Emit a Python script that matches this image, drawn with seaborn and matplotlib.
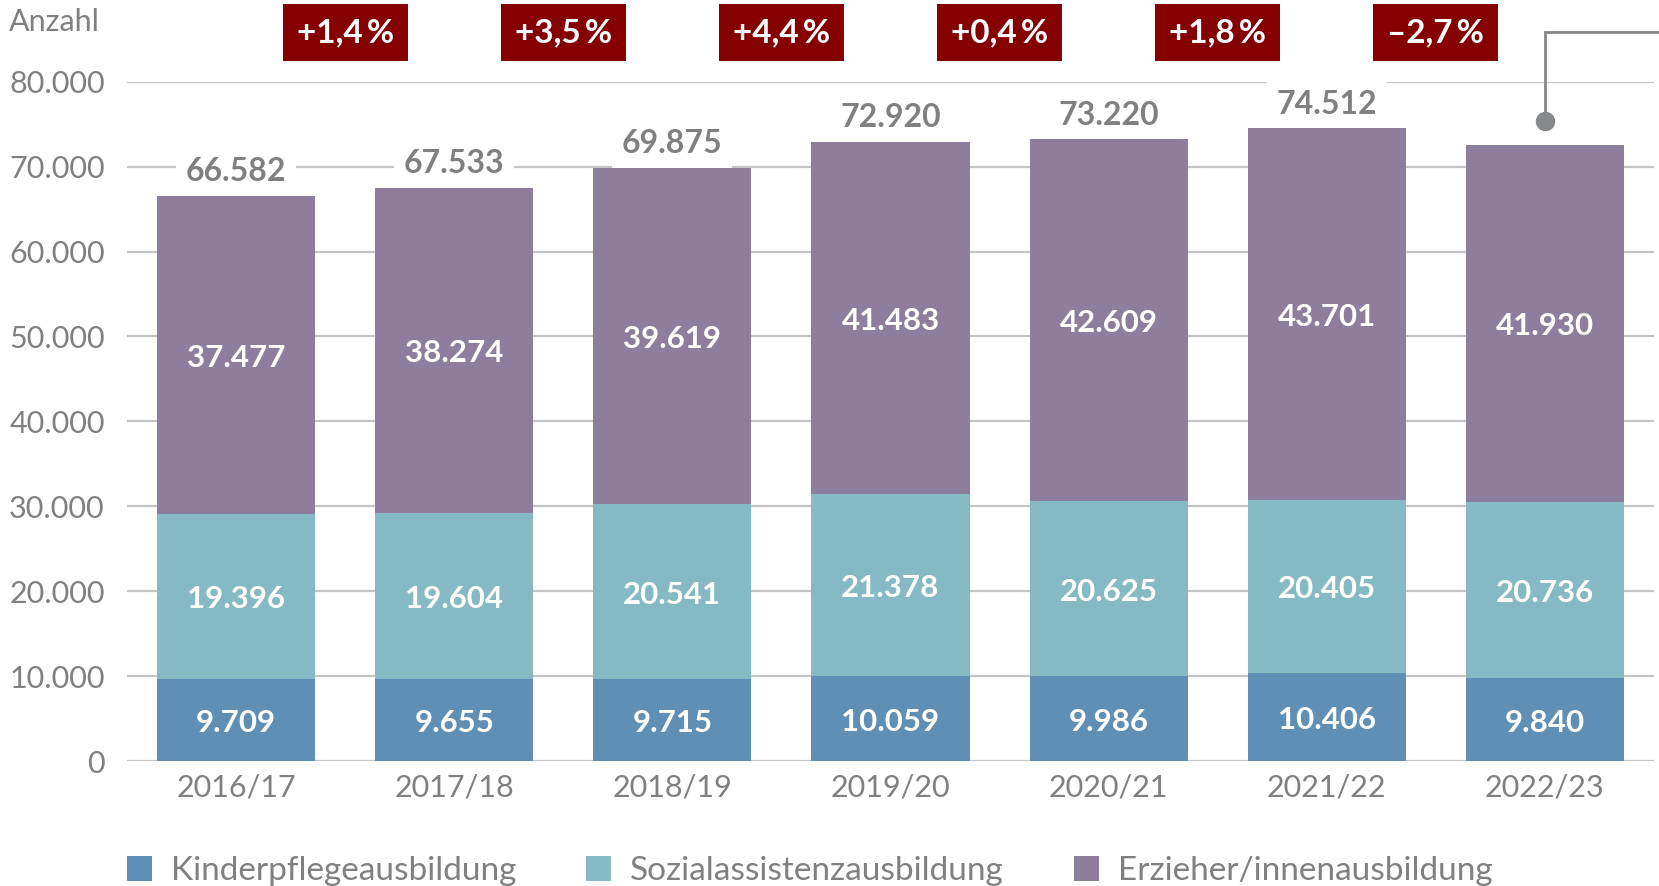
import matplotlib
matplotlib.use("Agg")
import matplotlib.pyplot as plt
from matplotlib.patches import Patch
import seaborn as sns
import pandas as pd
import numpy as np

# ---- data ----
years = ["2016/17", "2017/18", "2018/19", "2019/20", "2020/21", "2021/22", "2022/23"]
kinderpflege = [9709, 9655, 9715, 10059, 9986, 10406, 9840]
sozialassistenz = [19396, 19604, 20541, 21378, 20625, 20405, 20736]
erzieher = [37477, 38274, 39619, 41483, 42609, 43701, 41930]
changes = ["+1,4\u2009%", "+3,5\u2009%", "+4,4\u2009%", "+0,4\u2009%", "+1,8\u2009%", "\u20132,7\u2009%"]
series_names = ["Kinderpflegeausbildung", "Sozialassistenzausbildung", "Erzieher/innenausbildung"]
yticks = [0, 10000, 20000, 30000, 40000, 50000, 60000, 70000, 80000]
ytick_labels = ["0", "10.000", "20.000", "30.000", "40.000", "50.000", "60.000", "70.000", "80.000"]

colors = ["#5F8FB4", "#85B9C3", "#8C7E9C"]
GRAY = "#808080"
BADGE = "#850000"

def fmt(v):
    return f"{v:,}".replace(",", ".")

df = pd.DataFrame({"year": years, "k": kinderpflege, "s": sozialassistenz, "e": erzieher})
df["ks"] = df["k"] + df["s"]
df["total"] = df["ks"] + df["e"]

sns.set_theme(style="white")
plt.rcParams["font.family"] = ["Lato", "DejaVu Sans"]

W, H = 1659, 886
fig = plt.figure(figsize=(W / 100, H / 100), dpi=100)
ax = fig.add_axes([127 / W, 1 - 761.3 / H, (1654 - 127) / W, (761.3 - 81.6) / H])

bw = 0.725
sns.barplot(data=df, x="year", y="total", color=colors[2], saturation=1, width=bw, linewidth=0, ax=ax, zorder=2)
sns.barplot(data=df, x="year", y="ks", color=colors[1], saturation=1, width=bw, linewidth=0, ax=ax, zorder=2)
sns.barplot(data=df, x="year", y="k", color=colors[0], saturation=1, width=bw, linewidth=0, ax=ax, zorder=2)

ax.set_ylim(0, 80000)
ax.set_xlim(-0.5, 6.5)
ax.set_yticks(yticks)
ax.set_yticklabels(ytick_labels)
ax.set_xlabel("")
ax.set_ylabel("")
ax.set_axisbelow(True)
ax.yaxis.grid(True, color="#C4C4C4", linewidth=1.6)
ax.xaxis.grid(False)
for s in ax.spines.values():
    s.set_visible(False)
FS = 22
ax.tick_params(axis="y", length=0, pad=16, labelsize=FS, labelcolor=GRAY)
ax.tick_params(axis="x", length=0, pad=9, labelsize=FS, labelcolor=GRAY)

# segment labels
def seg_label(x, y, v):
    ax.annotate(fmt(v), xy=(x, y), xytext=(0, -2.2), textcoords="offset points",
                ha="center", va="center", color="white", fontsize=FS + 0.5,
                fontweight="bold", zorder=3)

for i, row in df.iterrows():
    seg_label(i, row["k"] / 2, row["k"])
    seg_label(i, row["k"] + row["s"] / 2, row["s"])
    seg_label(i, row["ks"] + row["e"] / 2, row["e"])

# totals (except last)
for i, row in df.iloc[:-1].iterrows():
    ax.annotate(fmt(row["total"]), xy=(i, row["total"]), xytext=(0, 17.3), textcoords="offset points",
                ha="center", va="center", color=GRAY, fontsize=FS + 1, fontweight="bold", zorder=3,
                bbox=dict(boxstyle="square,pad=0.3", facecolor="white", edgecolor="none"))

# change badges
badge_y = 85800
for i, txt in enumerate(changes):
    ax.text(i + 0.5, badge_y, txt, ha="center", va="center", color="white", fontsize=FS + 2,
            fontweight="bold", clip_on=False, zorder=4,
            bbox=dict(boxstyle="square,pad=0.42", facecolor=BADGE, edgecolor="none"))

# connector for last bar
last = len(years) - 1
dot_y = df["total"].iloc[-1] + 2900
ax.plot([last, last, 7.2], [dot_y, badge_y, badge_y], color="#86888C", lw=2, clip_on=False,
        solid_joinstyle="miter", zorder=3)
ax.plot([last], [dot_y], marker="o", markersize=13, color="#86888C", clip_on=False, zorder=4)

fig.text(8.5 / W, 1 - 22 / H, "Anzahl", ha="left", va="center", color=GRAY, fontsize=FS)

LFS = 24
handles = [Patch(facecolor=c, edgecolor="none") for c in colors]
px = LFS * 100 / 72
fig.legend(handles, series_names, loc="center left", bbox_to_anchor=(127 / W, 1 - 871 / H),
           ncol=3, frameon=False, fontsize=LFS, labelcolor=GRAY,
           handlelength=25 / px, handleheight=25 / px, handletextpad=19 / px,
           columnspacing=70 / px, borderpad=0, borderaxespad=0)

fig.savefig("out.png", dpi=100)
